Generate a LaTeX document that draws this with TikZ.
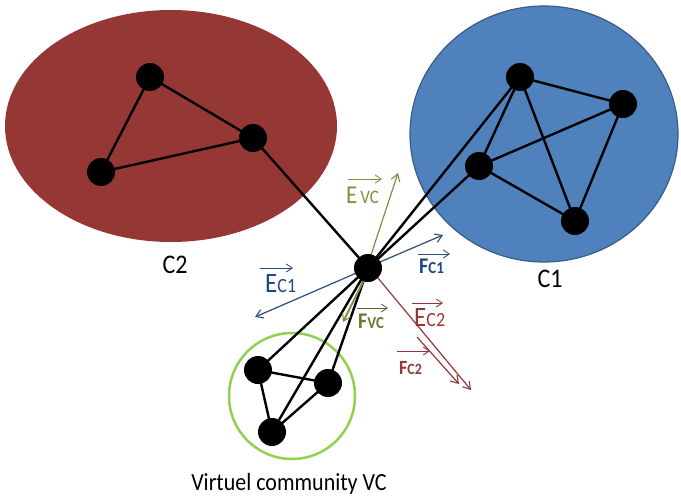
\documentclass[tikz,border=0pt]{standalone}
\usepackage{fontspec}
\setmainfont{Carlito}
\usetikzlibrary{arrows.meta}
\definecolor{cred}{HTML}{953735}
\definecolor{cblue}{HTML}{4F81BD}
\definecolor{cblueb}{HTML}{385D8A}
\definecolor{cgreen}{HTML}{92D050}
\definecolor{colive}{HTML}{77933C}
\definecolor{cnavy}{HTML}{2C4D75}
\definecolor{cnavyt}{HTML}{1F497D}
\newcommand\vstretch[1]{\scalebox{1}[1.12]{#1}}
\newcommand\fs[1]{\fontsize{#1}{#1}\selectfont}
\tikzset{
  dot/.style={circle,fill=black,inner sep=0pt,minimum size=28pt},
  edge/.style={black,line width=2.4pt},
  vec/.style={line width=1.2pt,-{Straight Barb[length=7pt,width=9pt,line width=1.1pt]}},
  ovec/.style={line width=0.9pt,-{Straight Barb[length=6pt,width=8pt,line width=0.9pt]}},
  lbl/.style={inner sep=0pt,anchor=base west}
}
\begin{document}
\begin{tikzpicture}[x=1pt,y=-1pt]
\useasboundingbox (0,0) rectangle (681,498);
% communities
\fill[cred] (171,126) ellipse [x radius=166, y radius=116];
\filldraw[fill=cblue,draw=cblueb,line width=1.2pt] (544,134) ellipse [x radius=134, y radius=128];
\draw[cgreen,line width=2.5pt] (292,396) circle [radius=63];
% nodes
\node[dot] (r1) at (150,77) {};
\node[dot] (r2) at (253,138) {};
\node[dot] (r3) at (101,172) {};
\node[dot] (b1) at (520,77) {};
\node[dot] (b2) at (623,104) {};
\node[dot] (b3) at (479,166) {};
\node[dot] (b4) at (575,221) {};
\node[dot] (v1) at (258,370) {};
\node[dot] (v2) at (328,383) {};
\node[dot] (v3) at (272,432) {};
\coordinate (hc) at (368,268);
% edges
\draw[edge] (r1.center) -- (r2.center) -- (r3.center) -- cycle;
\draw[edge] (b1.center) -- (b2.center) -- (b4.center) -- (b3.center) -- (b1.center) -- (b4.center);
\draw[edge] (b2.center) -- (b3.center);
\draw[edge] (v1.center) -- (v2.center) -- (v3.center) -- (v1.center);
\draw[edge] (hc) -- (r2.center);
\draw[edge] (hc) -- (b1.center);
\draw[edge] (hc) -- (b3.center);
\draw[edge] (hc) -- (v1.center);
\draw[edge] (hc) -- (v2.center);
\draw[edge] (hc) -- (v3.center);
% vector end points
\coordinate (evs) at (370,258);
\coordinate (eve) at (398,173);
\coordinate (fvs) at (364,280);
\coordinate (fve) at (343,322);
\coordinate (ec1e) at (255,317);
\coordinate (fc1s) at (380,262);
\coordinate (fc1e) at (443,235);
\coordinate (ec2s) at (378,278);
\coordinate (ec2e) at (471,390);
\coordinate (fc2s) at (417,337);
\coordinate (fc2e) at (459,384);
\draw[vec,colive] (evs) -- (eve);
\draw[vec,colive,line width=1.8pt] (fvs) -- (fve);
\draw[vec,cnavy] (hc) -- (ec1e);
\draw[vec,cnavy] (fc1s) -- (fc1e);
\draw[vec,cred] (ec2s) -- (ec2e);
\draw[vec,cred] (fc2s) -- (fc2e);
\node[dot] (h) at (hc) {};
% labels
\node (c2) at (175,265) {\vstretch{\fs{24}C2}};
\node (c1) at (550,279) {\vstretch{\fs{24}C1}};
\node (vc) at (289,484) {\vstretch{\fs{22}Virtuel community VC}};
% E_VC
\node[lbl,text=colive] (tevc) at (346,203) {\vstretch{\fs{23}E}\hspace{3pt}\vstretch{\fs{17}VC}};
\coordinate (aevc1) at (348,179); \coordinate (aevc2) at (382,179);
\draw[ovec,colive] (aevc1) -- (aevc2);
% F_VC
\node[lbl,text=colive!85!black] (tfvc) at (358,328) {\vstretch{\bfseries\fs{20}F\fs{15}VC}};
\coordinate (afvc1) at (357,308); \coordinate (afvc2) at (388,308);
\draw[ovec,colive!70!black] (afvc1) -- (afvc2);
% E_C1
\node[lbl,text=cnavyt] (tec1) at (265,292) {\vstretch{\fs{25}E\fs{18}C1}};
\coordinate (aec11) at (260,268); \coordinate (aec12) at (293,268);
\draw[ovec,cnavy] (aec11) -- (aec12);
% F_C1
\node[lbl,text=cnavyt] (tfc1) at (419,273) {\vstretch{\bfseries\fs{20}F\fs{15}C1}};
\coordinate (afc11) at (418,254); \coordinate (afc12) at (450,254);
\draw[ovec,cnavy] (afc11) -- (afc12);
% E_C2
\node[lbl,text=cred] (tec2) at (414,326) {\vstretch{\fs{25}E\fs{18}C2}};
\coordinate (aec21) at (412,303); \coordinate (aec22) at (443,303);
\draw[ovec,cred] (aec21) -- (aec22);
% F_C2
\node[lbl,text=cred] (tfc2) at (399,374) {\vstretch{\bfseries\fs{18}F\fs{14}C2}};
\coordinate (afc21) at (397,351); \coordinate (afc22) at (430,351);
\draw[ovec,cred] (afc21) -- (afc22);
\end{tikzpicture}
\end{document}
